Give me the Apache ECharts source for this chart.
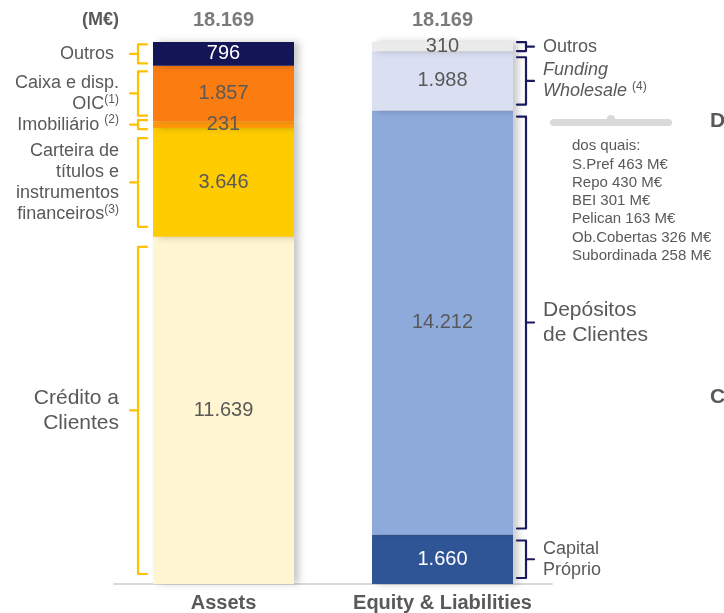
<!DOCTYPE html>
<html>
<head>
    <meta charset="utf-8">
    <title>Balanço</title>
    <script src="https://cdn.jsdelivr.net/npm/echarts@6/dist/echarts.min.js"></script>
    <style>
        html, body { margin: 0; padding: 0; background: #fff; }
        #chart { width: 724px; height: 613px; }
    </style>
</head>
<body>
    <div id="chart"></div>
    <script>
        // dados (M€), de baixo para cima
        const categories = ['Assets', 'Equity & Liabilities'];
        const totals = [18169, 18169];

        const assetNames = ['Crédito a Clientes', 'Carteira de títulos', 'Imobiliário', 'Caixa e disp. OIC', 'Outros'];
        const assetValues = [11639, 3646, 231, 1857, 796];
        const assetLabels = [
            'Crédito a\nClientes',
            'Carteira de\ntítulos e\ninstrumentos\nfinanceiros{sup|(3)}',
            'Imobiliário {sup|(2)}',
            'Caixa e disp.\nOIC{sup|(1)}',
            'Outros '
        ];

        const liabNames = ['Capital Próprio', 'Depósitos de Clientes', 'Funding Wholesale', 'Outros'];
        const liabValues = [1660, 14212, 1988, 310];
        const liabLabels = [
            'Capital\nPróprio',
            'Depósitos\nde Clientes',
            '{it|Funding}\n{it|Wholesale} {sup|(4)}',
            'Outros'
        ];

        const fundingBreakdown = [
            'dos quais:',
            'S.Pref 463 M€',
            'Repo 430 M€',
            'BEI 301 M€',
            'Pelican 163 M€',
            'Ob.Cobertas 326 M€',
            'Subordinada 258 M€'
        ];

        // estilos
        const FONT = '"Liberation Sans", Arial, sans-serif';
        const GREY = '#595959';
        const assetColors = ['#fff5d0', '#ffcc00', '#ff9a0a', '#fb7d12', '#131557'];
        const liabColors = ['#2f5597', '#8eaadb', '#dae0f1', '#ebebeb'];
        const assetTextColors = [GREY, GREY, GREY, GREY, '#ffffff'];
        const liabTextColors = ['#ffffff', GREY, GREY, GREY];
        const assetLabelSize = [21, 18, 18, 18, 18];
        const liabLabelSize = [18, 21, 18, 18];
        const BAR_W = 141;

        function fmt(v) {
            return String(v).replace(/\B(?=(\d{3})+(?!\d))/g, '.');
        }

        function segments(values, cat) {
            let acc = 0;
            return values.map((v, i) => {
                const seg = [cat, acc, acc + v, i];
                acc += v;
                return seg;
            });
        }

        function barSeries(values, colors, textColors, names, cat) {
            return values.map((v, i) => ({
                type: 'bar',
                name: names[i],
                stack: 'total',
                barWidth: BAR_W,
                data: cat === 0 ? [v, '-'] : ['-', v],
                itemStyle: {
                    color: colors[i],
                    shadowColor: 'rgba(0,0,0,0.22)',
                    shadowBlur: 7,
                    shadowOffsetX: 5
                },
                label: {
                    show: true,
                    position: 'inside',
                    formatter: p => fmt(p.value),
                    color: textColors[i],
                    fontSize: 20,
                    fontFamily: FONT
                },
                emphasis: { disabled: true },
                silent: true,
                z: 2
            }));
        }

        // chaveta + texto ao lado de cada segmento
        function braceRenderer(side, labels, sizes, color) {
            return function (params, api) {
                const cat = api.value(0);
                const pLo = api.coord([cat, api.value(1)]);
                const pHi = api.coord([cat, api.value(2)]);
                const idx = api.value(3);
                const h = pLo[1] - pHi[1];
                let inset = side === 'left'
                    ? Math.min(10, Math.max(2, h * 0.1))
                    : Math.min(6, Math.max(1, h * 0.15));
                let y1 = pHi[1] + inset;
                let y2 = pLo[1] - inset;
                if (y2 - y1 < 8) {
                    const m = (y1 + y2) / 2;
                    y1 = m - 4.5; y2 = m + 4.5;
                }
                const mid = (y1 + y2) / 2;
                const dir = side === 'left' ? 1 : -1;
                const xv = side === 'left' ? pLo[0] - BAR_W / 2 - 15 : pLo[0] + BAR_W / 2 + 13;
                const hook = xv + dir * 9;
                const nub = xv - dir * 8;
                const fs = sizes[idx];
                const lh = Math.round(fs * 1.18);
                const lineStyle = { stroke: color, lineWidth: 2.2, fill: null, lineJoin: 'round', lineCap: 'round' };
                return {
                    type: 'group',
                    children: [
                        { type: 'polyline', shape: { points: [[hook, y1], [xv, y1], [xv, y2], [hook, y2]] }, style: lineStyle },
                        { type: 'line', shape: { x1: xv, y1: mid, x2: nub, y2: mid }, style: lineStyle },
                        {
                            type: 'text',
                            x: side === 'left' ? nub - 11 : nub + 9,
                            y: mid,
                            style: {
                                text: labels[idx],
                                align: side === 'left' ? 'right' : 'left',
                                verticalAlign: 'middle',
                                fontSize: fs,
                                fontFamily: FONT,
                                fill: GREY,
                                lineHeight: lh,
                                rich: {
                                    sup: { fontSize: 12, verticalAlign: 'top', fill: GREY, fontFamily: FONT, lineHeight: lh },
                                    it: { fontStyle: 'italic', fontSize: fs, fill: GREY, fontFamily: FONT, lineHeight: lh }
                                }
                            }
                        }
                    ]
                };
            };
        }

        const chart = echarts.init(document.getElementById('chart'));

        const option = {
            animation: false,
            backgroundColor: '#ffffff',
            grid: { left: 114, right: 172, top: 42, bottom: 28 },
            xAxis: {
                type: 'category',
                data: categories,
                axisLine: { lineStyle: { color: '#d9d9d9', width: 2 } },
                axisTick: { show: false },
                axisLabel: {
                    interval: 0,
                    color: GREY,
                    fontWeight: 'bold',
                    fontSize: 20,
                    fontFamily: FONT,
                    margin: 9
                }
            },
            yAxis: {
                type: 'value',
                min: 0,
                max: 18170,
                show: false
            },
            series: [
                ...barSeries(assetValues, assetColors, assetTextColors, assetNames, 0),
                ...barSeries(liabValues, liabColors, liabTextColors, liabNames, 1),
                {
                    type: 'scatter',
                    data: totals,
                    symbolSize: 0,
                    silent: true,
                    label: {
                        show: true,
                        position: 'top',
                        distance: 12,
                        formatter: p => fmt(p.value),
                        color: GREY,
                        fontWeight: 'bold',
                        fontSize: 20,
                        fontFamily: FONT
                    },
                    z: 5
                },
                {
                    type: 'custom',
                    silent: true,
                    renderItem: braceRenderer('left', assetLabels, assetLabelSize, '#ffc000'),
                    data: segments(assetValues, 0),
                    z: 4
                },
                {
                    type: 'custom',
                    silent: true,
                    renderItem: braceRenderer('right', liabLabels, liabLabelSize, '#1a1a5e'),
                    data: segments(liabValues, 1),
                    z: 4
                }
            ],
            graphic: [
                {
                    type: 'text', left: 82, top: 11,
                    style: { text: '(M€)', fill: GREY, font: 'bold 18px ' + FONT }
                },
                { type: 'rect', shape: { x: 550, y: 119, width: 122, height: 7, r: 3.5 }, style: { fill: '#d9d9d9' } },
                { type: 'circle', shape: { cx: 611, cy: 119, r: 4 }, style: { fill: '#d9d9d9' } },
                {
                    type: 'text', left: 572, top: 137,
                    style: { text: fundingBreakdown.join('\n'), font: '15px ' + FONT, fill: GREY, lineHeight: 18.3 }
                },
                { type: 'text', left: 710, top: 111, style: { text: 'D', font: 'bold 21px ' + FONT, fill: GREY } },
                { type: 'text', left: 710, top: 387, style: { text: 'C', font: 'bold 21px ' + FONT, fill: GREY } }
            ]
        };

        chart.setOption(option);
    </script>
</body>
</html>
